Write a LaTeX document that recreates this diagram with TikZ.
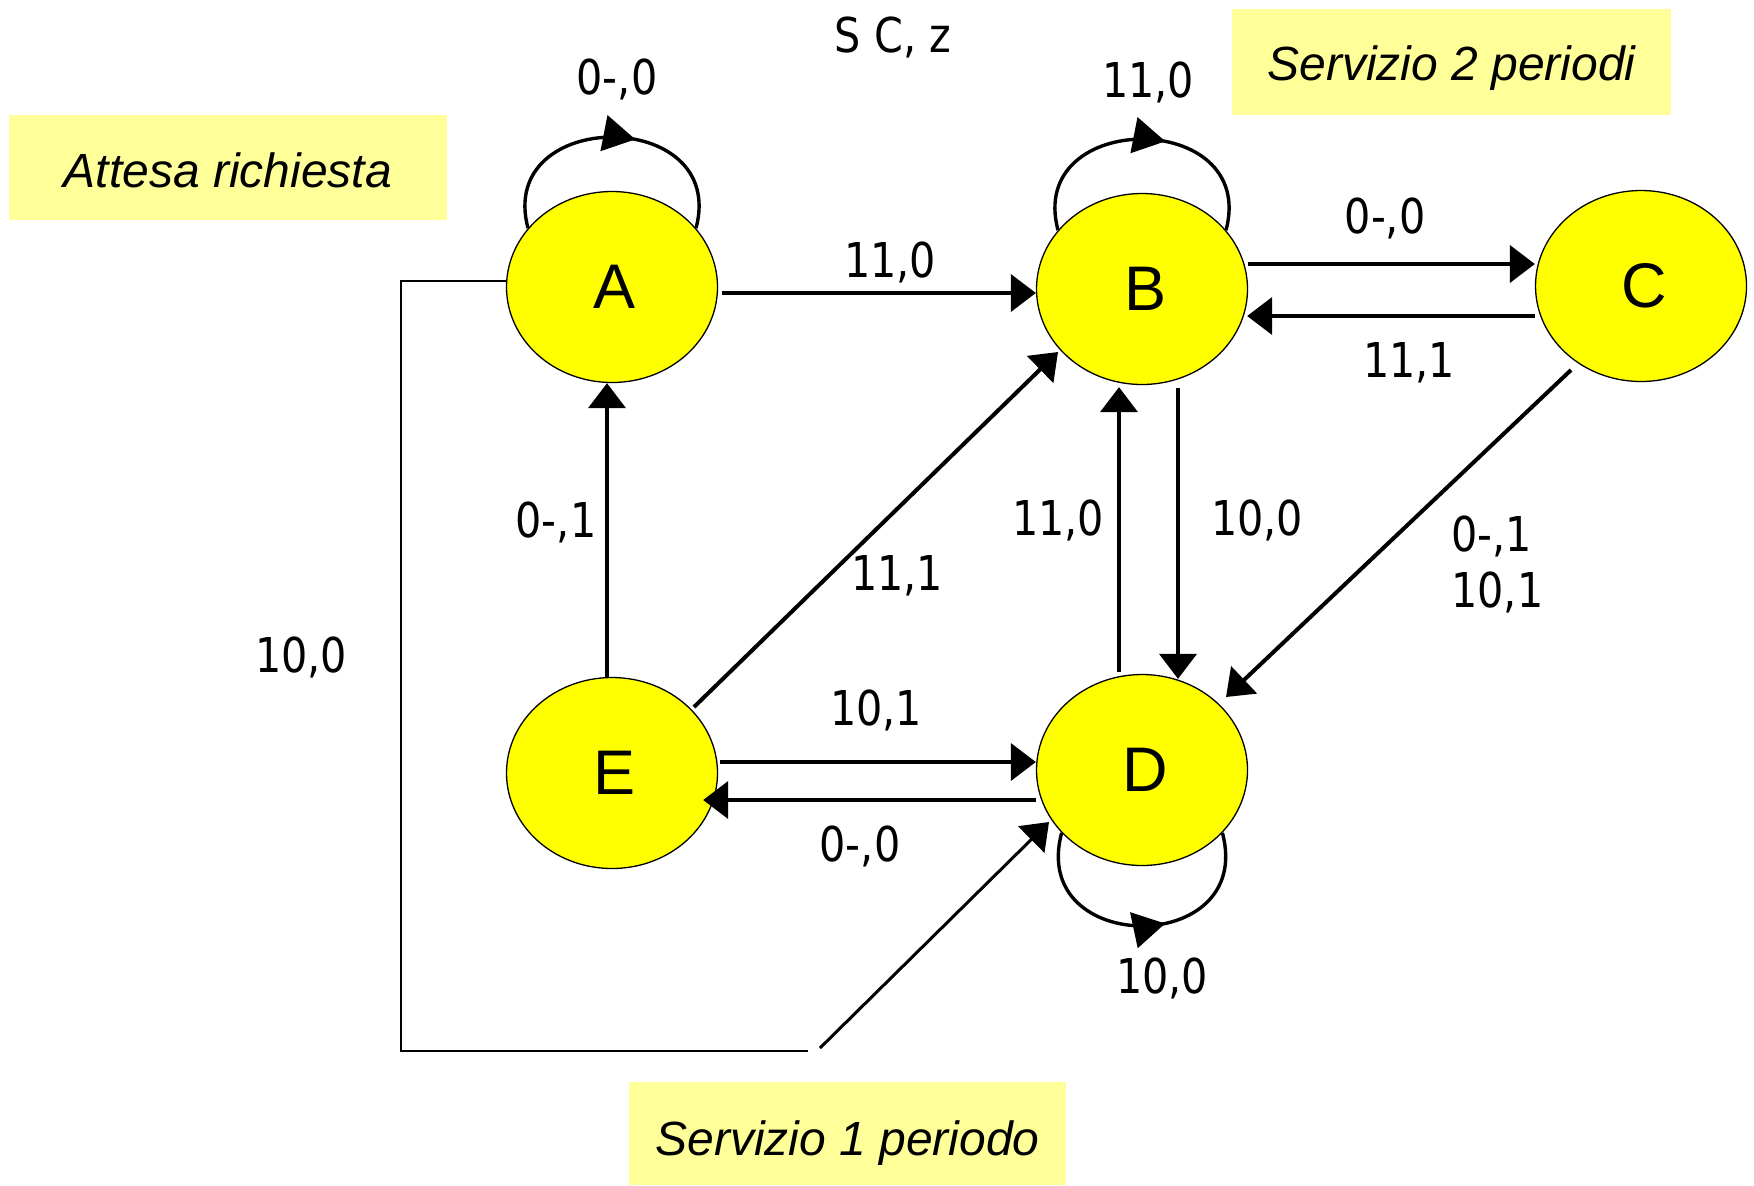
\documentclass[tikz,border=0pt]{standalone}
\usepackage{fontspec}
\usetikzlibrary{arrows.meta,calc,decorations.markings,shapes.geometric}
\pgfdeclarelayer{background}
\pgfsetlayers{background,main}
\newfontfamily\lblfont[FakeStretch=0.86]{DejaVu Sans}
\newfontfamily\letterfont{Liberation Sans}
\definecolor{stateyellow}{RGB}{255,255,0}
\definecolor{notepale}{RGB}{255,255,153}

\begin{document}
\begin{tikzpicture}[x=0.5pt,y=-0.5pt,
  state/.style={ellipse,draw,line width=0.65pt,fill=stateyellow,
    minimum width=105.5pt,minimum height=95.5pt,inner sep=0pt,
    execute at begin node={\hspace*{3pt}},
    font=\letterfont\fontsize{31.5pt}{36pt}\selectfont},
  edgelbl/.style={font=\lblfont\fontsize{24pt}{28pt}\selectfont,inner sep=0pt,align=left},
  note/.style={fill=notepale,inner sep=0pt,text depth=0pt,
    font=\letterfont\itshape\fontsize{24pt}{28pt}\selectfont},
  trans/.style={line width=2pt,-{Triangle[length=12.5pt,width=18.5pt]}},
  selfloop/.style={line width=1.7pt,
    decoration={markings,mark=at position #1 with {\arrow{Triangle[length=16pt,width=18pt]}}},
    postaction={decorate}},
  feed/.style={line width=0.75pt}
]
\useasboundingbox (0,0) rectangle (1754,1185);

% comment boxes
\node[note,text height=19.7pt,minimum width=219pt,minimum height=52.5pt] (attesa) at (228,167.5) {Attesa richiesta};
\node[note,text height=18pt,minimum width=219.5pt,minimum height=53pt] (serv2) at (1451.5,62) {Servizio 2 periodi};
\node[note,text height=21.5pt,minimum width=218.5pt,minimum height=51.5pt] (serv1) at (847.5,1133.5) {Servizio 1 periodo};

% states
\node[state] (A) at (612,287) {A};
\node[state] (B) at (1142,289) {B};
\node[state] (C) at (1641,286) {C};
\node[state] (E) at (612,773) {E};
\node[state] (D) at (1142,770) {D};

% self loops behind the states
\begin{pgfonlayer}{background}
\draw[selfloop=0.58] (A.145) to[out=105,in=75,looseness=1.92] (A.35);
\draw[selfloop=0.58] (B.145) to[out=105,in=75,looseness=1.92] (B.35);
\draw[selfloop=0.58] (D.218) to[out=-105,in=-75,looseness=2.05] (D.322);
\end{pgfonlayer}

% transitions
\draw[trans] ($(A.east)+(4,6)$) -- ($(B.west)+(0,4)$);
\draw[trans] ($(B.east)+(0,-25)$) -- ($(C.west)+(0,-22)$);
\draw[trans] ($(C.west)+(0,30)$) -- ($(B.east)+(-1,27)$);
\draw[trans] ($(E.north)+(-5,0)$) -- ($(A.south)+(-5,0)$);
\draw[trans] ($(E.center)+(82,-66)$) -- ($(B.center)+(-84,63)$);
\draw[trans] ($(D.north)+(-23,-2)$) -- ($(B.south)+(-23,2)$);
\draw[trans] ($(B.south)+(36,3)$) -- ($(D.north)+(36,5)$);
\draw[trans] ($(C.center)+(-70,84)$) -- ($(D.center)+(84,-73)$);
\draw[trans] ($(E.east)+(2,-11)$) -- ($(D.west)+(0,-8)$);
\draw[trans] ($(D.west)+(0,30)$) -- ($(E.east)+(-15,27)$);

% long return path from A to D
\coordinate (fb1) at (401,281);
\coordinate (fb2) at (401,1051);
\coordinate (fb3) at (808,1051);
\coordinate (fb4) at (820,1048);
\draw[feed] ($(A.west)+(0,-6)$) -- (fb1) -- (fb2) -- (fb3);
\draw[trans,line width=1.5pt] (fb4) -- ($(D.center)+(-93,52)$);

% labels
\node[edgelbl,anchor=base] (hdr) at (893,52) {S C, z};
\node[edgelbl,anchor=base] (lAA) at (617,94) {0-,0};
\node[edgelbl,anchor=base] (lBB) at (1148,97) {11,0};
\node[edgelbl,anchor=base] (lAB) at (890,277) {11,0};
\node[edgelbl,anchor=base] (lBC) at (1385,233) {0-,0};
\node[edgelbl,anchor=base] (lCB) at (1409,377) {11,1};
\node[edgelbl,anchor=base] (lEA) at (556,537) {0-,1};
\node[edgelbl,anchor=base] (lEB) at (897,590) {11,1};
\node[edgelbl,anchor=base] (lDB) at (1058,535) {11,0};
\node[edgelbl,anchor=base] (lBD) at (1257,535) {10,0};
\node[edgelbl,anchor=north west] (lCD) at (1451,515) {0-,1\\10,1};
\node[edgelbl,anchor=base] (lAD) at (301,672) {10,0};
\node[edgelbl,anchor=base] (lED) at (876,725) {10,1};
\node[edgelbl,anchor=base] (lDE) at (860,861) {0-,0};
\node[edgelbl,anchor=base] (lDD) at (1162,993) {10,0};
\end{tikzpicture}
\end{document}
